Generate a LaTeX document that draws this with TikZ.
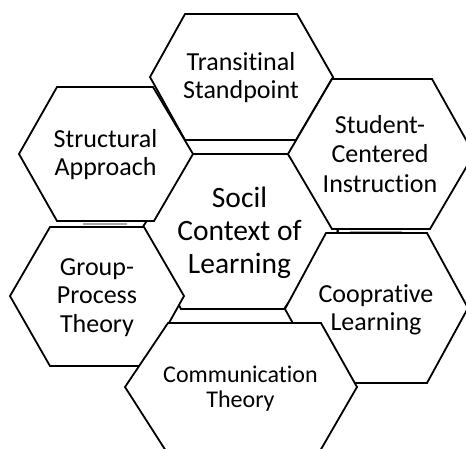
\documentclass[tikz,border=0pt]{standalone}
\usepackage{fontspec}
\setmainfont{Carlito}[RawFeature={-liga;-clig;-dlig}]
\begin{document}
\begin{tikzpicture}[x=1pt,y=-1pt,
  hexcell/.style={draw=black, fill=white, line width=1.8pt, line join=miter},
  cellText/.style={align=center, inner sep=0pt, font=\fontsize{26}{28}\selectfont},
  seam/.style={draw=black!35, line width=1.5pt}]
\useasboundingbox (0,0) rectangle (466,448);
\clip (0,0) rectangle (466,448);
\fill[white] (0,0) rectangle (466,448);

% central cell, drawn first so the ring of cells overlaps it
\draw[hexcell] (192,154) -- (288,154) -- (338,231) -- (284,309) -- (181,309) -- (140,231) -- cycle;

% surrounding cells
\draw[hexcell] (185,14) -- (297,14) -- (333,77) -- (296,140) -- (185,140) -- (150,77) -- cycle;
\draw[hexcell] (332,79) -- (432,79) -- (474,154) -- (430,229) -- (332,229) -- (288,154) -- cycle;
\draw[hexcell] (57,87) -- (153,87) -- (193,154) -- (154,221) -- (57,221) -- (19,154) -- cycle;
\draw[hexcell] (50,227) -- (144,227) -- (184,296) -- (145,366) -- (50,366) -- (10,296) -- cycle;
\draw[hexcell] (326,233) -- (427,233) -- (468,308) -- (427,383) -- (326,383) -- (285,309) -- cycle;
\draw[hexcell] (168,323) -- (321,323) -- (357,387) -- (320,451) -- (166,451) -- (125,387) -- cycle;

% faint seams in the narrow gaps between stacked cells
\draw[seam] (83,224) -- (127,224);
\draw[seam] (350,231.5) -- (402,231.5);

% labels
\node[cellText, font=\fontsize{29.5}{33}\selectfont] (social) at (239.5,233.4)
  {\strut Socil\\\strut Context of\\\strut Learning};
\node[cellText] (transitional) at (241,78.4) {\strut Transitinal\\\strut Standpoint};
\node[cellText] (structural) at (105.5,155.4) {\strut Structural\\\strut Approach};
\node[cellText, font=\fontsize{26}{29.5}\selectfont] (student) at (380,156.6)
  {\strut Student-\\\strut Centered\\\strut Instruction};
\node[cellText, font=\fontsize{26}{28.5}\selectfont] (group) at (97,297.8)
  {\strut Group-\\\strut Process\\\strut Theory};
\node[cellText] (cooperative) at (376,310.4) {\strut Cooprative\\\strut Learning};
\node[cellText, font=\fontsize{24}{25}\selectfont] (communication) at (240.5,389.5)
  {\strut Communication\\\strut Theory};
\end{tikzpicture}
\end{document}
